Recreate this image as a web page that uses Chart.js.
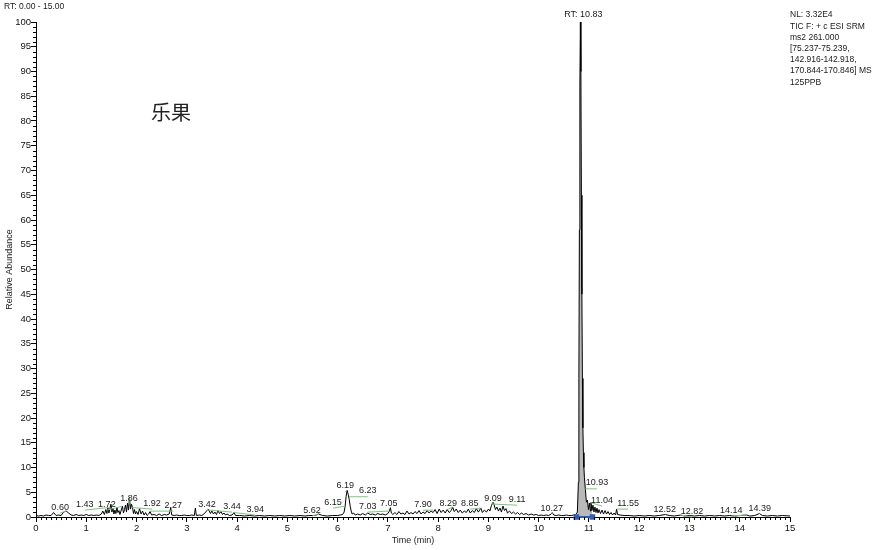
<!DOCTYPE html>
<html>
<head>
<meta charset="utf-8">
<script src="https://cdn.jsdelivr.net/npm/chart.js@4/dist/chart.umd.min.js"></script>
<style>
html,body{margin:0;padding:0;background:#fff;}
canvas{display:block;}
</style>
</head>
<body>
<canvas id="c" width="879" height="550"></canvas>
<script>
// ---- data ----
const rangeLabel = 'RT: 0.00 - 15.00';
const infoLines = ['NL: 3.32E4', 'TIC F: + c ESI SRM', 'ms2 261.000', '[75.237-75.239,', '142.916-142.918,', '170.844-170.846] MS', '125PPB'];
const sampleName = '乐果';
const xTitle = 'Time (min)';
const yTitle = 'Relative Abundance';
const mainPeakLabel = 'RT: 10.83';
const mainPeakRT = 10.83;

// time (min), relative abundance (%)
const tracePoints = [
 [0.00,0.3],[0.05,0.2],[0.10,0.3],[0.15,0.2],[0.20,0.4],[0.25,0.3],[0.30,0.3],[0.35,0.9],[0.40,0.3],[0.45,0.4],
 [0.50,0.3],[0.55,1.0],[0.60,1.2],[0.65,0.8],[0.70,0.4],[0.75,0.3],[0.80,0.5],[0.85,0.3],[0.90,0.4],[0.95,0.3],
 [1.00,0.5],[1.05,0.3],[1.10,0.4],[1.15,0.3],[1.20,0.4],[1.25,0.3],[1.30,0.6],
 [1.33,1.2],[1.36,0.5],[1.39,1.5],[1.41,0.7],[1.43,1.9],[1.45,0.8],[1.47,1.6],[1.49,2.6],[1.51,1.0],[1.53,1.8],
 [1.55,0.6],[1.57,1.4],[1.59,0.7],[1.61,2.0],[1.63,0.9],[1.65,1.3],[1.67,0.5],[1.69,1.2],[1.72,2.2],[1.74,0.8],
 [1.76,1.5],[1.78,2.4],[1.80,1.0],[1.82,2.8],[1.84,1.4],[1.86,3.9],[1.88,1.6],[1.90,2.6],[1.92,1.9],[1.94,0.7],
 [1.96,1.5],[1.98,0.6],[2.00,1.1],[2.03,0.5],[2.06,1.7],[2.09,0.6],
 [2.12,1.2],[2.15,0.4],[2.18,0.9],[2.21,0.3],[2.24,0.6],[2.27,1.1],[2.30,0.4],[2.35,0.5],[2.40,0.3],[2.45,0.6],
 [2.50,0.3],[2.55,0.5],[2.60,0.4],[2.65,0.6],[2.68,1.9],[2.70,0.4],[2.75,0.3],[2.80,0.4],[2.85,0.3],[2.90,0.3],
 [2.95,0.4],[3.00,0.3],[3.05,0.3],[3.10,0.4],[3.15,0.3],[3.17,1.8],[3.19,0.3],[3.25,0.4],[3.30,0.3],[3.35,0.7],
 [3.40,1.3],[3.42,1.6],[3.44,1.4],[3.47,0.7],[3.50,1.2],[3.53,0.6],[3.56,1.0],[3.59,0.5],[3.62,1.3],[3.65,0.7],
 [3.68,1.1],[3.71,0.5],[3.74,0.8],[3.77,0.4],[3.80,0.6],[3.85,0.3],[3.90,0.4],[3.94,0.9],[3.97,0.3],
 [4.05,0.3],[4.15,0.2],[4.25,0.3],[4.35,0.2],[4.45,0.3],[4.55,0.2],[4.65,0.3],[4.75,0.2],[4.85,0.3],[4.95,0.2],
 [5.05,0.3],[5.15,0.2],[5.25,0.3],[5.35,0.2],[5.45,0.3],[5.55,0.3],[5.62,0.6],[5.70,0.3],[5.80,0.2],[5.90,0.3],
 [6.00,0.3],[6.05,0.4],[6.10,0.5],
 [6.13,1.0],[6.15,2.2],[6.17,4.2],[6.19,5.4],[6.21,4.6],[6.23,3.6],[6.25,2.2],[6.27,1.2],[6.29,0.6],[6.32,0.8],[6.35,0.4],
 [6.40,0.6],[6.45,0.4],[6.50,0.7],[6.55,0.4],[6.60,0.8],[6.65,0.5],[6.70,0.6],[6.75,0.4],[6.80,0.7],[6.85,0.5],
 [6.90,0.6],[6.95,0.4],[7.00,0.7],[7.03,1.2],[7.05,1.9],[7.07,0.8],[7.10,0.5],
 [7.14,0.9],[7.18,0.5],[7.22,1.1],[7.26,0.6],[7.30,0.8],[7.34,0.5],[7.38,1.2],[7.42,0.6],[7.46,0.9],[7.50,0.6],
 [7.54,1.1],[7.58,0.7],[7.62,1.3],[7.66,0.6],[7.70,1.0],[7.74,0.7],[7.78,1.3],[7.82,0.8],[7.86,1.2],[7.90,0.9],
 [7.94,1.5],[7.98,0.7],[8.02,1.6],[8.06,0.9],[8.10,1.4],[8.14,0.8],[8.18,1.5],[8.22,0.9],[8.26,1.3],[8.29,2.0],
 [8.32,1.1],[8.36,1.6],[8.40,0.9],[8.44,1.4],[8.48,0.8],[8.52,1.2],[8.56,0.9],[8.60,1.6],[8.64,0.8],[8.68,1.3],
 [8.72,0.9],[8.76,1.7],[8.80,1.0],[8.85,1.8],[8.88,0.9],[8.92,1.4],[8.96,1.0],[9.00,1.6],[9.03,1.2],[9.06,2.3],
 [9.09,3.0],[9.11,2.6],[9.14,1.5],[9.17,2.0],[9.20,1.2],[9.23,1.8],[9.26,1.0],[9.29,2.2],[9.32,1.3],[9.35,1.7],
 [9.38,0.8],[9.42,1.2],[9.46,0.7],[9.50,1.0],[9.54,0.6],[9.58,0.9],[9.62,0.5],[9.66,0.8],[9.70,0.5],[9.75,0.7],
 [9.80,0.4],[9.85,0.6],[9.90,0.4],[9.95,0.5],
 [10.00,0.3],[10.05,0.4],[10.10,0.3],[10.15,0.4],[10.20,0.3],[10.25,0.6],[10.27,0.9],[10.30,0.4],[10.35,0.3],[10.40,0.4],
 [10.45,0.3],[10.50,0.3],[10.55,0.4],[10.60,0.3],[10.65,0.3],[10.70,0.4],[10.74,0.5],
 [10.77,1.0],[10.79,7],[10.80,28],[10.81,58],[10.82,87],[10.83,100],[10.84,90],[10.85,65],[10.86,45],[10.87,28],
 [10.88,18],[10.89,13],[10.90,10],[10.91,8],[10.93,5.5],[10.95,3.0],[10.97,3.4],[10.99,1.5],[11.01,2.8],[11.03,1.2],
 [11.04,2.9],[11.06,1.3],[11.08,2.4],[11.10,1.0],[11.12,2.0],[11.14,0.9],[11.16,1.8],[11.18,0.8],[11.20,1.5],[11.23,0.7],
 [11.26,1.4],[11.29,0.6],[11.32,1.3],[11.35,0.6],[11.38,1.1],[11.41,0.5],[11.44,0.9],[11.47,0.4],[11.50,0.8],[11.53,0.4],
 [11.55,1.6],[11.57,0.5],[11.62,0.4],
 [11.70,0.3],[11.80,0.3],[11.90,0.2],[12.00,0.3],[12.10,0.2],[12.20,0.3],[12.30,0.2],[12.40,0.3],[12.52,0.5],[12.60,0.3],
 [12.70,0.2],[12.82,0.4],[12.90,0.2],[13.00,0.3],[13.10,0.2],[13.20,0.3],[13.30,0.2],[13.40,0.3],[13.50,0.2],[13.60,0.3],
 [13.70,0.2],[13.80,0.3],[13.90,0.2],[14.00,0.3],[14.14,0.4],[14.20,0.2],[14.30,0.3],[14.39,0.7],[14.45,0.3],[14.55,0.2],
 [14.65,0.3],[14.75,0.2],[14.85,0.3],[15.00,0.2]
];

// integrated main peak range (min)
const peakStart = 10.75;
const peakEnd = 11.07;

// peak RT labels and where the labels sit (time, abundance)
const peakLabels = ['0.60','1.43','1.72','1.86','1.92','2.27','3.42','3.44','3.94','5.62','6.15','6.19','6.23','7.03','7.05','7.90','8.29','8.85','9.09','9.11','10.27','10.93','11.04','11.55','12.52','12.82','14.14','14.39'];
const labelTimes  = [0.48,0.97,1.41,1.85,2.31,2.73,3.40,3.90,4.36,5.49,5.91,6.15,6.60,6.60,7.02,7.70,8.20,8.63,9.09,9.57,10.26,11.16,11.26,11.78,12.51,13.05,13.83,14.40];
const labelHeights= [2.0,2.6,2.6,3.8,2.8,2.4,2.6,2.2,1.6,1.4,3.0,6.3,5.3,2.2,2.8,2.6,2.8,2.8,3.8,3.6,1.8,6.9,3.4,2.8,1.6,1.2,1.4,1.8];

const yMajorStep = 5;
const xMajorStep = 1;

// ---- chart ----
const FONT = '"Liberation Sans", Arial, sans-serif';
const traceData = tracePoints.map(p => ({x: p[0], y: p[1]}));
const fillData = tracePoints.filter(p => p[0] >= peakStart && p[0] <= peakEnd).map(p => ({x: p[0], y: p[1]}));
fillData.unshift({x: peakStart, y: 0});
fillData.push({x: peakEnd, y: 0});

function interp(t) {
  for (let i = 1; i < tracePoints.length; i++) {
    const a = tracePoints[i-1], b = tracePoints[i];
    if (t >= a[0] && t <= b[0]) {
      const f = (t - a[0]) / (b[0] - a[0] || 1);
      return a[1] + f * (b[1] - a[1]);
    }
  }
  return 0;
}

const decor = {
  id: 'decor',
  afterDraw(chart) {
    const {ctx, chartArea: a} = chart;
    const x = chart.scales.x, y = chart.scales.y;
    ctx.save();
    // minor ticks
    ctx.strokeStyle = '#000';
    ctx.lineWidth = 1;
    ctx.beginPath();
    for (let v = 0; v <= 100; v++) {
      if (v % yMajorStep === 0) continue;
      const py = Math.round(y.getPixelForValue(v)) + 0.5;
      ctx.moveTo(a.left - 3, py); ctx.lineTo(a.left, py);
    }
    for (let i = 0; i <= 150; i++) {
      if (i % 10 === 0) continue;
      const px = Math.round(x.getPixelForValue(i / 10)) + 0.5;
      ctx.moveTo(px, a.bottom); ctx.lineTo(px, a.bottom + 3);
    }
    ctx.stroke();

    // peak labels with green leader lines
    ctx.font = '9px ' + FONT;
    ctx.textAlign = 'center';
    ctx.textBaseline = 'middle';
    ctx.strokeStyle = '#7cc47c';
    ctx.lineWidth = 1;
    peakLabels.forEach((txt, i) => {
      const rt = parseFloat(txt);
      const lx = x.getPixelForValue(labelTimes[i]);
      const ly = y.getPixelForValue(labelHeights[i]);
      const rx = x.getPixelForValue(rt);
      const ry = y.getPixelForValue(interp(rt));
      ctx.beginPath();
      ctx.moveTo(rx, Math.min(ry, ly + 6));
      ctx.lineTo(lx, ly + 6);
      ctx.stroke();
    });
    ctx.fillStyle = '#1a1a1a';
    peakLabels.forEach((txt, i) => {
      ctx.fillText(txt, x.getPixelForValue(labelTimes[i]), y.getPixelForValue(labelHeights[i]));
    });
    // main peak label
    ctx.fillText(mainPeakLabel, x.getPixelForValue(mainPeakRT) + 3, a.top - 7);

    // range label
    ctx.font = '8.5px ' + FONT;
    ctx.textAlign = 'left';
    ctx.fillText(rangeLabel, 4, 7);

    // info block
    infoLines.forEach((s, i) => ctx.fillText(s, a.right, 15 + i * 11.2));

    // axis titles
    ctx.font = '9px ' + FONT;
    ctx.textAlign = 'center';
    ctx.fillText(xTitle, (a.left + a.right) / 2, 541);
    ctx.save();
    ctx.translate(10, (a.top + a.bottom) / 2);
    ctx.rotate(-Math.PI / 2);
    ctx.fillText(yTitle, 0, 0);
    ctx.restore();

    // sample name
    ctx.font = '20px "Noto Sans CJK SC", sans-serif';
    ctx.fillStyle = '#222';
    ctx.textAlign = 'left';
    ctx.fillText(sampleName, 151, 112);
    ctx.restore();
  }
};

new Chart(document.getElementById('c'), {
  type: 'line',
  data: {
    datasets: [
      {data: fillData, fill: 'origin', backgroundColor: '#b9b9b9', borderWidth: 0, pointRadius: 0, order: 3},
      {data: traceData, borderColor: '#000', borderWidth: 1, pointRadius: 0, fill: false, tension: 0, order: 2},
      {data: [{x: peakStart, y: 0}, {x: peakEnd, y: 0}], borderColor: '#2f5fb3', backgroundColor: '#2f5fb3',
       borderWidth: 2, pointRadius: 2.5, pointStyle: 'rect', clip: false, order: 1}
    ]
  },
  options: {
    responsive: false,
    animation: false,
    devicePixelRatio: 1,
    layout: {padding: {left: 0, right: 89, top: 22, bottom: 0}},
    plugins: {legend: {display: false}, tooltip: {enabled: false}},
    scales: {
      x: {
        type: 'linear', min: 0, max: 15,
        afterFit(s) { s.height = 33; },
        ticks: {stepSize: xMajorStep, color: '#111', font: {family: FONT, size: 9.5}, padding: 1, maxRotation: 0, autoSkip: false},
        grid: {drawOnChartArea: false, color: '#000', tickLength: 5},
        border: {color: '#000', width: 1}
      },
      y: {
        type: 'linear', min: 0, max: 100,
        afterFit(s) { s.width = 36; },
        ticks: {stepSize: yMajorStep, color: '#111', font: {family: FONT, size: 9.5}, padding: 0},
        grid: {drawOnChartArea: false, color: '#000', tickLength: 5},
        border: {color: '#000', width: 1}
      }
    }
  },
  plugins: [decor]
});
</script>
</body>
</html>
